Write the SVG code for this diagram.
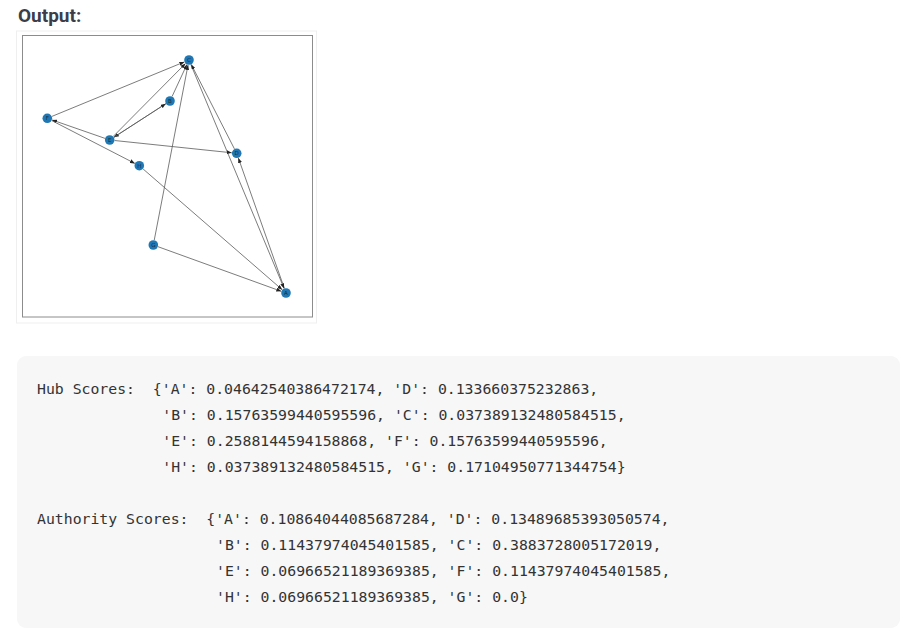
<svg xmlns="http://www.w3.org/2000/svg" width="923" height="633" viewBox="0 0 923 633">
<style>
.title{font-family:Roboto,"Liberation Sans",sans-serif;font-weight:bold;font-size:19px;fill:#3d3d4a}
.edge{stroke:#5a5a5a;stroke-width:0.8;fill:none;marker-end:url(#arr)}
.node circle{fill:#1f78b4}
.node text{font-family:"DejaVu Sans","Liberation Sans",sans-serif;font-size:5.5px;fill:#1a2a3a;text-anchor:middle;dominant-baseline:central}
.code text{font-family:"DejaVu Sans Mono","Liberation Mono",monospace;font-size:14.8px;fill:#333;white-space:pre}
</style>
<defs>
<marker id="arr" markerWidth="5" markerHeight="4" refX="5" refY="2" orient="auto" markerUnits="userSpaceOnUse">
<path d="M0,0 L5,2 L0,4 z" fill="#222"/>
</marker>
</defs>
<rect width="923" height="633" fill="#ffffff"/>
<text class="title" x="18" y="22">Output:</text>
<rect x="16.5" y="31" width="300" height="292" fill="#ffffff" stroke="#efefef" stroke-width="1"/>
<rect x="22.5" y="35.5" width="290" height="281.5" fill="#ffffff" stroke="#8c8c8c" stroke-width="1"/>
<g id="connectors">
<line class="edge" x1="284.34" y1="288.29" x2="238.36" y2="158.02"/>
<line class="edge" x1="172.10" y1="96.46" x2="186.90" y2="64.54"/>
<line class="edge" x1="165.80" y1="103.72" x2="113.90" y2="137.28"/>
<line class="edge" x1="190.92" y1="64.62" x2="284.08" y2="288.38"/>
<line class="edge" x1="234.42" y1="148.85" x2="191.28" y2="64.45"/>
<line class="edge" x1="113.90" y1="137.28" x2="165.80" y2="103.72"/>
<line class="edge" x1="113.22" y1="136.45" x2="185.48" y2="63.55"/>
<line class="edge" x1="114.67" y1="140.52" x2="231.73" y2="152.78"/>
<line class="edge" x1="104.98" y1="138.36" x2="52.02" y2="119.94"/>
<line class="edge" x1="51.92" y1="116.40" x2="184.38" y2="61.90"/>
<line class="edge" x1="51.75" y1="120.59" x2="134.85" y2="163.41"/>
<line class="edge" x1="158.00" y1="246.70" x2="281.30" y2="291.30"/>
<line class="edge" x1="154.25" y1="240.09" x2="188.05" y2="64.91"/>
<line class="edge" x1="143.08" y1="168.98" x2="282.22" y2="289.72"/>
</g>
<g id="node-A" class="node"><circle cx="286" cy="293" r="4.8"/><text x="286" y="293">A</text></g>
<g id="node-B" class="node"><circle cx="170" cy="101" r="4.8"/><text x="170" y="101">B</text></g>
<g id="node-C" class="node"><circle cx="189" cy="60" r="4.8"/><text x="189" y="60">C</text></g>
<g id="node-D" class="node"><circle cx="236.7" cy="153.3" r="4.8"/><text x="236.7" y="153.3">D</text></g>
<g id="node-E" class="node"><circle cx="109.7" cy="140" r="4.8"/><text x="109.7" y="140">E</text></g>
<g id="node-F" class="node"><circle cx="47.3" cy="118.3" r="4.8"/><text x="47.3" y="118.3">F</text></g>
<g id="node-G" class="node"><circle cx="153.3" cy="245" r="4.8"/><text x="153.3" y="245">G</text></g>
<g id="node-H" class="node"><circle cx="139.3" cy="165.7" r="4.8"/><text x="139.3" y="165.7">H</text></g>
<rect x="17" y="356" width="883" height="272" rx="9" fill="#f7f7f7"/>
<g id="output-text" class="code">
<text x="37" y="394" xml:space="preserve">Hub Scores:  {'A': 0.04642540386472174, 'D': 0.133660375232863,</text>
<text x="162.3" y="420">'B': 0.15763599440595596, 'C': 0.037389132480584515,</text>
<text x="162.3" y="446">'E': 0.2588144594158868, 'F': 0.15763599440595596,</text>
<text x="162.3" y="472">'H': 0.037389132480584515, 'G': 0.17104950771344754}</text>
<text x="37" y="524" xml:space="preserve">Authority Scores:  {'A': 0.10864044085687284, 'D': 0.13489685393050574,</text>
<text x="216" y="550">'B': 0.11437974045401585, 'C': 0.3883728005172019,</text>
<text x="216" y="576">'E': 0.06966521189369385, 'F': 0.11437974045401585,</text>
<text x="216" y="602">'H': 0.06966521189369385, 'G': 0.0}</text>
</g>
</svg>
